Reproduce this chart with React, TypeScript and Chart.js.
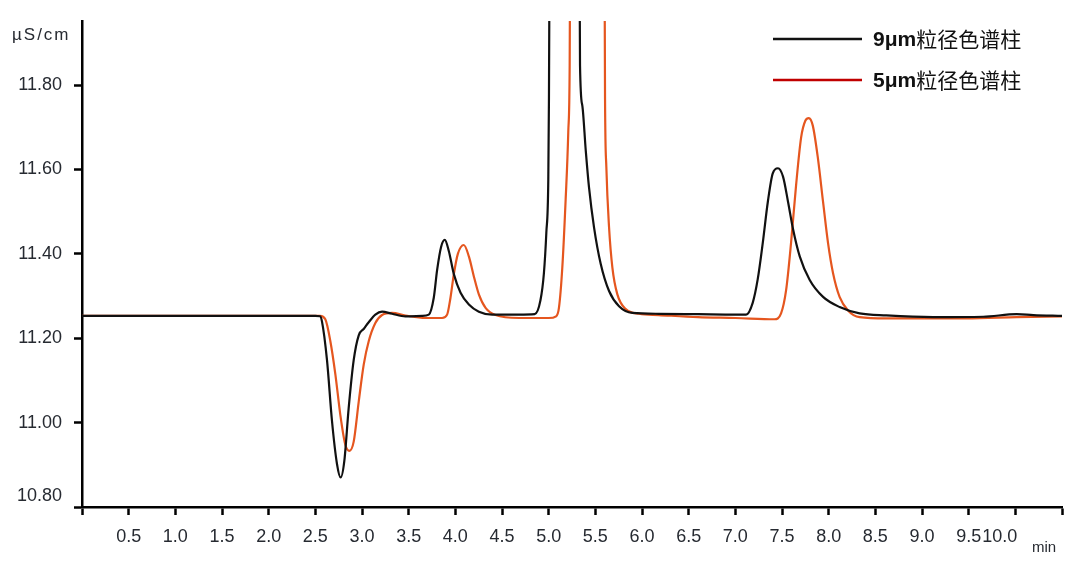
import React, { useEffect, useRef } from 'react';
import { Chart, registerables } from 'chart.js';

Chart.register(...registerables);

// ---- data ----
const blackTimes = [
  0, 0.5, 1.0, 1.5, 2.0, 2.5, 2.55, 2.571, 2.625, 2.678, 2.732, 2.771, 2.811, 2.857, 2.911, 2.965,
  3.018, 3.072, 3.143, 3.215, 3.322, 3.465, 3.644, 3.716, 3.769, 3.805, 3.848, 3.887, 3.93, 3.984,
  4.056, 4.145, 4.252, 4.395, 4.681, 4.85, 4.912, 4.949, 4.975, 4.996, 5.003, 5.02, 5.17, 5.32,
  5.336, 5.361, 5.397, 5.432, 5.486, 5.558, 5.647, 5.754, 5.897, 6.18, 6.6, 7.0, 7.115, 7.186,
  7.24, 7.294, 7.348, 7.401, 7.457, 7.511, 7.565, 7.618, 7.69, 7.797, 7.94, 8.117, 8.332, 8.618,
  9.119, 9.656, 10.014, 10.193, 10.5,
];
const blackValues = [
  11.253, 11.253, 11.253, 11.253, 11.253, 11.253, 11.252, 11.24, 11.148, 11.005, 10.902, 10.87, 10.91, 11.034, 11.148, 11.207,
  11.222, 11.238, 11.256, 11.263, 11.258, 11.252, 11.253, 11.256, 11.296, 11.362, 11.417, 11.433, 11.407, 11.352,
  11.308, 11.28, 11.263, 11.256, 11.256, 11.257, 11.29, 11.354, 11.45, 11.576, 11.767, 12.6, 13.5, 12.6,
  11.846, 11.751, 11.646, 11.558, 11.463, 11.376, 11.312, 11.276, 11.26, 11.258, 11.257, 11.256, 11.256, 11.284,
  11.34, 11.426, 11.523, 11.591, 11.603, 11.583, 11.523, 11.459, 11.394, 11.338, 11.298, 11.274, 11.259, 11.254,
  11.25, 11.251, 11.257, 11.255, 11.253,
];
const orangeTimes = [
  0, 0.5, 1.0, 1.5, 2.0, 2.5, 2.55, 2.607, 2.661, 2.715, 2.768, 2.822, 2.865, 2.911, 2.965, 3.018,
  3.072, 3.143, 3.215, 3.322, 3.465, 3.68, 3.858, 3.912, 3.948, 3.984, 4.027, 4.091, 4.145, 4.199,
  4.252, 4.324, 4.431, 4.681, 5.0, 5.08, 5.11, 5.146, 5.182, 5.21, 5.225, 5.24, 5.41, 5.59,
  5.604, 5.618, 5.647, 5.683, 5.736, 5.826, 5.969, 6.18, 6.6, 7.0, 7.419, 7.49, 7.544, 7.597,
  7.651, 7.705, 7.751, 7.787, 7.83, 7.884, 7.94, 7.993, 8.047, 8.117, 8.207, 8.332, 8.618, 9.477,
  10.014, 10.5,
];
const orangeValues = [
  11.253, 11.253, 11.253, 11.253, 11.253, 11.253, 11.253, 11.245, 11.193, 11.114, 11.018, 10.947, 10.933, 10.955, 11.05, 11.137,
  11.193, 11.236, 11.255, 11.26, 11.254, 11.248, 11.248, 11.256, 11.296, 11.352, 11.4, 11.421, 11.394, 11.346,
  11.304, 11.272, 11.255, 11.248, 11.248, 11.252, 11.272, 11.367, 11.529, 11.688, 11.846, 12.6, 13.6, 12.6,
  11.767, 11.606, 11.463, 11.367, 11.304, 11.269, 11.258, 11.255, 11.25, 11.248, 11.245, 11.259, 11.314, 11.426,
  11.563, 11.676, 11.716, 11.722, 11.704, 11.628, 11.523, 11.426, 11.354, 11.298, 11.266, 11.25, 11.247, 11.247,
  11.25, 11.252,
];
const seriesNames = ['9μm粒径色谱柱', '5μm粒径色谱柱'];
const yTickValues = [10.8, 11.0, 11.2, 11.4, 11.6, 11.8];
const xTickValues = [0, 0.5, 1.0, 1.5, 2.0, 2.5, 3.0, 3.5, 4.0, 4.5, 5.0, 5.5, 6.0, 6.5, 7.0, 7.5, 8.0, 8.5, 9.0, 9.5, 10.0, 10.5];
const yUnit = 'µS/cm';
const xUnit = 'min';

// ---- styles ----
const lineColors = ['#111111', '#E5561F'];
const legendColors = ['#111111', '#C00000'];
const textColor = '#262a31';
const FONT = '"Liberation Sans", Arial, sans-serif';

const extrasPlugin = {
  id: 'extras',
  afterDraw(chart: any) {
    const ctx: CanvasRenderingContext2D = chart.ctx;
    const area = chart.chartArea;
    const xs = chart.scales.x;
    const ys = chart.scales.y;
    ctx.save();
    ctx.fillStyle = textColor;

    // y tick labels
    ctx.font = `18px ${FONT}`;
    ctx.textAlign = 'right';
    ctx.textBaseline = 'middle';
    yTickValues.forEach((v, i) => {
      let y = ys.getPixelForValue(v);
      if (i === 0) y -= 11;
      ctx.fillText(v.toFixed(2), area.left - 20, y);
    });

    // x tick labels
    ctx.textBaseline = 'middle';
    const first = xTickValues[0];
    const last = xTickValues[xTickValues.length - 1];
    const lastLabelled = xTickValues[xTickValues.length - 2];
    xTickValues.forEach((v) => {
      if (v === first || v === last) return;
      const x = xs.getPixelForValue(v);
      if (v === lastLabelled) {
        ctx.textAlign = 'right';
        ctx.fillText(v.toFixed(1), x + 2, area.bottom + 30);
      } else {
        ctx.textAlign = 'center';
        ctx.fillText(v.toFixed(1), x, area.bottom + 30);
      }
    });

    // units
    ctx.textAlign = 'left';
    ctx.font = `17px ${FONT}`;
    (ctx as any).letterSpacing = '2px';
    ctx.fillText(yUnit, 12, area.top + 14);
    (ctx as any).letterSpacing = '0px';
    ctx.font = `15px ${FONT}`;
    ctx.textAlign = 'center';
    ctx.fillText(xUnit, area.right - 18, area.bottom + 41);

    // legend
    const legendX = 773;
    const legendYs = [39, 80];
    chart.data.datasets.forEach((ds: any, i: number) => {
      const y = legendYs[i];
      ctx.strokeStyle = legendColors[i];
      ctx.lineWidth = 2.5;
      ctx.beginPath();
      ctx.moveTo(legendX, y);
      ctx.lineTo(legendX + 89, y);
      ctx.stroke();
      const label: string = ds.label;
      const m = label.match(/^[0-9μµa-zA-Z]+/);
      const head = m ? m[0] : '';
      const rest = label.slice(head.length);
      ctx.fillStyle = '#111111';
      ctx.textAlign = 'left';
      ctx.textBaseline = 'middle';
      ctx.font = `bold 21px ${FONT}`;
      ctx.fillText(head, legendX + 100, y + 1);
      const w = ctx.measureText(head).width;
      ctx.font = `21px "Noto Sans CJK SC", sans-serif`;
      ctx.fillText(rest, legendX + 100 + w, y);
    });
    ctx.restore();
  },
};

export default function App() {
  const canvasRef = useRef<HTMLCanvasElement | null>(null);

  useEffect(() => {
    document.body.style.margin = '0';
    const canvas = canvasRef.current;
    if (!canvas) return;
    const black = blackTimes.map((t, i) => ({ x: t, y: blackValues[i] }));
    const orange = orangeTimes.map((t, i) => ({ x: t, y: orangeValues[i] }));
    const chart = new Chart(canvas, {
      type: 'line',
      data: {
        datasets: [
          {
            label: seriesNames[0],
            data: black,
            borderColor: lineColors[0],
            borderWidth: 2.2,
            pointRadius: 0,
            cubicInterpolationMode: 'monotone',
            fill: false,
          },
          {
            label: seriesNames[1],
            data: orange,
            borderColor: lineColors[1],
            borderWidth: 2.2,
            pointRadius: 0,
            cubicInterpolationMode: 'monotone',
            fill: false,
          },
        ],
      },
      options: {
        animation: false,
        responsive: false,
        devicePixelRatio: 1,
        layout: { padding: { left: 0, right: 18, top: 21, bottom: 0 } },
        plugins: { legend: { display: false }, tooltip: { enabled: false } },
        scales: {
          x: {
            type: 'linear',
            min: 0,
            max: 10.5,
            afterBuildTicks: (s: any) => {
              s.ticks = xTickValues.map((v) => ({ value: v }));
            },
            afterFit: (s: any) => {
              s.height = 58;
              s.paddingLeft = 0;
              s.paddingRight = 0;
            },
            ticks: { display: false },
            grid: {
              drawOnChartArea: false,
              drawTicks: true,
              tickLength: 8,
              tickWidth: 2.5,
              tickColor: '#000',
            },
            border: { display: true, color: '#000', width: 2.5 },
          },
          y: {
            type: 'linear',
            min: 10.8,
            max: 11.952,
            afterBuildTicks: (s: any) => {
              s.ticks = yTickValues.map((v) => ({ value: v }));
            },
            afterFit: (s: any) => {
              s.width = 82;
              s.paddingTop = 0;
              s.paddingBottom = 0;
            },
            ticks: { display: false },
            grid: {
              drawOnChartArea: false,
              drawTicks: true,
              tickLength: 8,
              tickWidth: 2.5,
              tickColor: '#000',
            },
            border: { display: true, color: '#000', width: 2.5 },
          },
        },
      },
      plugins: [extrasPlugin],
    });
    return () => chart.destroy();
  }, []);

  return (
    <div style={{ width: 1080, height: 565, background: '#fff' }}>
      <canvas ref={canvasRef} width={1080} height={565} style={{ display: 'block' }} />
    </div>
  );
}
